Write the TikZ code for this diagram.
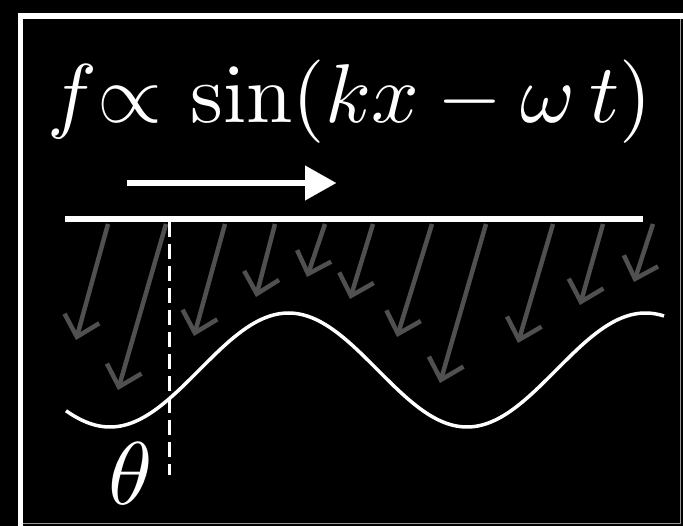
\documentclass[tikz,border=0pt]{standalone}
\usetikzlibrary{arrows.meta}
\definecolor{arrgray}{RGB}{80,80,80}
\definecolor{edgegray}{RGB}{150,150,150}
\begin{document}
\begin{tikzpicture}[x=1pt,y=-1pt,
  rain/.style={draw=arrgray,line width=4.5pt,-{Straight Barb[length=19pt,width=36pt]}},
  lbl/.style={text=white,inner sep=0pt,anchor=base}]
\useasboundingbox (0,0) rectangle (683,526);
\fill[black] (0,0) rectangle (683,526);
% frame
\fill[white] (18,13) rectangle (683,19);
\fill[white] (18,13) rectangle (23,526);
\draw[edgegray,line width=1pt] (680,19) -- (680,523) -- (23,523);
% formula
\node[lbl] (formula) at (350,123) {\resizebox{604pt}{!}{$f{\propto}\,\sin(kx-\omega\,t)$}};
% motion arrow
\coordinate (ms) at (127,183);
\coordinate (me) at (336,183);
\draw[white,line width=5.5pt,-{Triangle[length=31pt,width=35pt,line width=0.01pt]}] (ms) -- (me);
% top line
\coordinate (l1) at (65,219);
\coordinate (l2) at (643,219);
\draw[white,line width=6pt] (l1) -- (l2);
% rain arrows
\foreach \i/\sx/\tx/\ty in {1/108/76/340,2/166/118/390,3/225/194/336,4/275/256/297,5/325/307/277,6/373/350/299,7/432/397/337,8/486/440/383,9/553/518/343,10/603/580/305,11/653/634/282}{
  \coordinate (s\i) at (\sx,224);
  \coordinate (t\i) at (\tx,\ty);
  \draw[rain] (s\i) -- (t\i);
}
% wave
\draw[white,line width=3.5pt] plot[domain=66:664,samples=200,smooth] (\x,{370+57*cos((\x-110)*1.008403)});
% dashed normal
\coordinate (d1) at (169,222);
\coordinate (d2) at (169,475);
\draw[white,line width=3pt,dash pattern=on 15pt off 7pt] (d1) -- (d2);
% theta
\node[lbl] (theta) at (131,504) {\scalebox{8.9}{$\theta$}};
\end{tikzpicture}
\end{document}
